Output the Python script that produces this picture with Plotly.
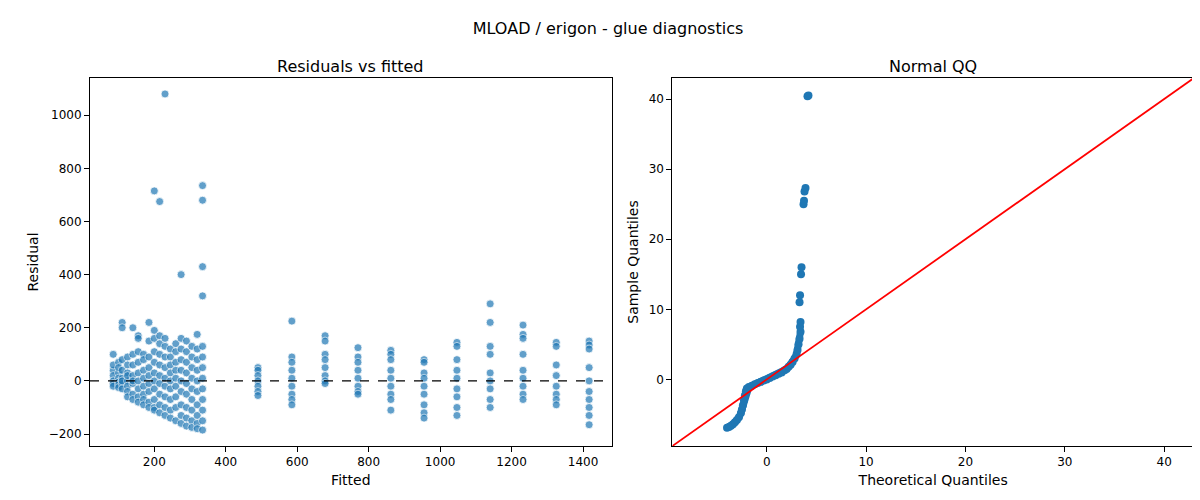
import plotly.graph_objects as go
from plotly.subplots import make_subplots

# fitted value of each column of points, and the residuals seen in that column
fitted_cols = [85, 100, 110, 125, 140, 155, 170, 185, 200, 215, 230, 245, 260, 275, 290, 305, 320, 335,
               490, 585, 678, 770, 862, 955, 1047, 1140, 1232, 1325, 1417]
resid_cols = [
    [100, 40, 20, 0, -10, -20, 60],
    [70, 30, 10, -5, -15, -25, 50],
    [220, 200, 80, 40, 10, -10, -30, 0],
    [90, 60, 30, 0, -20, -40, -60, 20],
    [200, 100, 60, 20, -10, -50, -70, 0],
    [170, 160, 110, 70, 30, 0, -30, -60, -80],
    [100, 80, 40, 10, -20, -50, -70, -90],
    [220, 150, 90, 50, 20, -10, -40, -80, -100],
    [715, 190, 160, 110, 70, 30, 0, -30, -70, -100, -110],
    [675, 170, 140, 100, 60, 20, -10, -50, -90, -120],
    [1080, 160, 130, 90, 50, 10, -20, -60, -100, -130],
    [120, 90, 60, 30, 0, -30, -70, -110, -140],
    [140, 110, 70, 40, 10, -20, -60, -100, -150],
    [400, 160, 120, 80, 40, 0, -40, -90, -130, -160],
    [150, 110, 70, 30, -10, -50, -100, -140, -170],
    [130, 90, 50, 10, -30, -70, -110, -150, -175],
    [175, 120, 80, 40, 0, -40, -90, -130, -160, -180],
    [735, 680, 430, 320, 130, 90, 50, 10, -30, -70, -110, -150, -185],
    [50, 40, 20, 0, -20, -40, -55],
    [225, 90, 70, 40, 10, -20, -50, -70, -90],
    [170, 150, 100, 80, 50, 20, 0, -10],
    [125, 90, 70, 40, 10, -20, -40, -50],
    [115, 100, 80, 40, 10, -20, -50, -70, -110],
    [80, 70, 30, 10, -20, -50, -90, -120, -140],
    [145, 130, 80, 40, 10, -30, -60, -100, -130],
    [290, 220, 130, 100, 30, 0, -30, -70, -100],
    [210, 175, 160, 100, 40, 10, -20, -50, -70],
    [145, 130, 60, 20, -20, -50, -70, -90],
    [150, 135, 120, 50, 0, -40, -70, -100, -130, -165],
]

# QQ body (dense, drawn as a thick run of points)
theo_body = [-4.0, -3.8, -3.6, -3.4, -3.2, -3.0, -2.8, -2.6, -2.5, -2.4, -2.3, -2.2, -2.1, -2.0, -1.8,
             -1.5, -1.2, -0.9, -0.6, -0.3, 0.0, 0.3, 0.6, 0.9, 1.2, 1.5, 1.8, 2.0, 2.2, 2.4, 2.6, 2.8,
             3.0, 3.1, 3.2, 3.3, 3.4]
sample_body = [-6.9, -6.8, -6.6, -6.4, -6.1, -5.8, -5.4, -4.8, -4.3, -3.7, -3.0, -2.3, -1.7, -1.3, -1.1,
               -0.9, -0.7, -0.5, -0.35, -0.15, 0.0, 0.2, 0.4, 0.6, 0.8, 1.0, 1.3, 1.5, 1.8, 2.1, 2.5, 3.0,
               3.6, 4.2, 5.0, 5.8, 6.8]
# QQ tail (separate points)
theo_tail = [3.35, 3.4, 3.3, 3.35, 3.45, 3.5, 3.7, 3.75, 3.8, 3.9, 4.1, 4.2]
sample_tail = [7.5, 8.2, 11.0, 12.0, 15.0, 16.0, 25.0, 25.5, 26.8, 27.3, 40.4, 40.5]

fitted = [f for f, col in zip(fitted_cols, resid_cols) for _ in col]
resid = [r for col in resid_cols for r in col]

blue = "#1f77b4"
fig = make_subplots(rows=1, cols=2, subplot_titles=("Residuals vs fitted", "Normal QQ"),
                    horizontal_spacing=0.055)
fig.add_trace(go.Scatter(x=fitted, y=resid, mode="markers",
                         marker=dict(color=blue, opacity=0.7, size=8, line=dict(color="white", width=0.8))),
              row=1, col=1)
fig.add_hline(y=0, line=dict(color="black", dash="dash", width=1.2), row=1, col=1)
fig.add_trace(go.Scatter(x=theo_body, y=sample_body, mode="markers+lines",
                         line=dict(color=blue, width=7), marker=dict(color=blue, size=8)), row=1, col=2)
fig.add_trace(go.Scatter(x=theo_tail, y=sample_tail, mode="markers",
                         marker=dict(color=blue, size=8)), row=1, col=2)
fig.add_trace(go.Scatter(x=[-9.5, 43], y=[-9.5, 43], mode="lines",
                         line=dict(color="red", width=1.8)), row=1, col=2)

axis = dict(showgrid=False, zeroline=False, showline=True, linecolor="black", mirror=True,
            ticks="outside", tickcolor="black", title_standoff=6)
fig.update_xaxes(**axis)
fig.update_yaxes(**axis)
fig.update_xaxes(range=[20, 1480], tickvals=[200, 400, 600, 800, 1000, 1200, 1400],
                 title_text="Fitted", row=1, col=1)
fig.update_yaxes(range=[-245, 1140], tickvals=[-200, 0, 200, 400, 600, 800, 1000],
                 title_text="Residual", row=1, col=1)
fig.update_xaxes(range=[-9.5, 43], tickvals=[0, 10, 20, 30, 40],
                 title_text="Theoretical Quantiles", row=1, col=2)
fig.update_yaxes(range=[-9.5, 43], tickvals=[0, 10, 20, 30, 40],
                 title_text="Sample Quantiles", row=1, col=2)
fig.update_annotations(font=dict(size=16, color="black"))
fig.update_layout(
    width=1200, height=500, showlegend=False,
    title=dict(text="MLOAD / erigon - glue diagnostics", x=0.5, y=0.97, font=dict(size=16, color="black")),
    font=dict(family="DejaVu Sans", size=12, color="black"),
    plot_bgcolor="white", paper_bgcolor="white",
    margin=dict(l=82, r=14, t=70, b=62),
)
fig.write_html("out.html")
